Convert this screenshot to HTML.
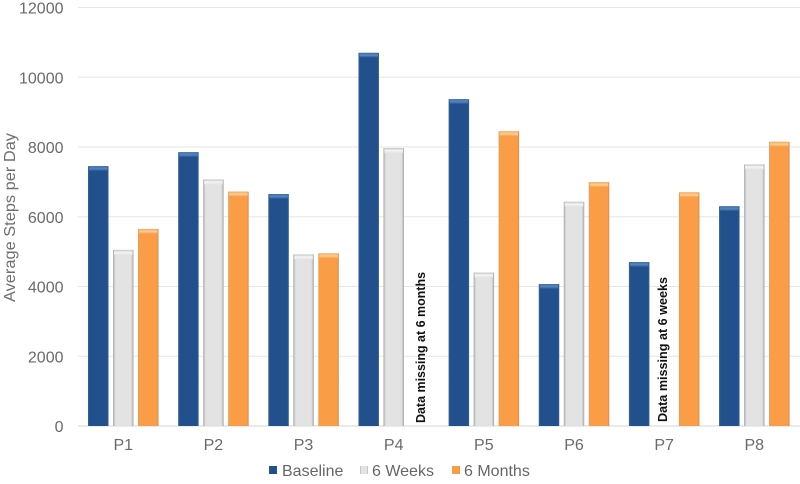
<!DOCTYPE html>
<html>
<head>
<meta charset="utf-8">
<style>
html,body{margin:0;padding:0;background:#fff;}
#chart{display:block;width:800px;height:484px;font-family:"Liberation Sans",sans-serif;}
</style>
</head>
<body>
<svg id="chart" xmlns="http://www.w3.org/2000/svg" width="800" height="484" viewBox="0 0 800 484">
<defs>
<linearGradient id="h0" x1="0" x2="1" y1="0" y2="0"><stop offset="0" stop-color="#3b6597"/><stop offset="0.08" stop-color="#22508c"/><stop offset="0.92" stop-color="#22508c"/><stop offset="1" stop-color="#34608f"/></linearGradient>
<linearGradient id="h1" x1="0" x2="1" y1="0" y2="0"><stop offset="0" stop-color="#a9a9a9"/><stop offset="0.12" stop-color="#e3e3e3"/><stop offset="0.88" stop-color="#e3e3e3"/><stop offset="1" stop-color="#a5a5a5"/></linearGradient>
<linearGradient id="h2" x1="0" x2="1" y1="0" y2="0"><stop offset="0" stop-color="#d9a066"/><stop offset="0.08" stop-color="#fb9d47"/><stop offset="0.92" stop-color="#fb9d47"/><stop offset="1" stop-color="#c98a50"/></linearGradient>
<linearGradient id="v0" x1="0" x2="0" y1="0" y2="1"><stop offset="0" stop-color="#3f6ea8"/><stop offset="0.5" stop-color="#5686c0"/><stop offset="1" stop-color="#22508c"/></linearGradient>
<linearGradient id="v1" x1="0" x2="0" y1="0" y2="1"><stop offset="0" stop-color="#c4c4c4"/><stop offset="0.5" stop-color="#f5f5f5"/><stop offset="1" stop-color="#e3e3e3"/></linearGradient>
<linearGradient id="v2" x1="0" x2="0" y1="0" y2="1"><stop offset="0" stop-color="#f0a860"/><stop offset="0.5" stop-color="#ffcf96"/><stop offset="1" stop-color="#fb9d47"/></linearGradient>
</defs>
</svg>
<script>
var categories = ['P1','P2','P3','P4','P5','P6','P7','P8'];
var baseline = [7450,7850,6650,10700,9370,4070,4700,6300];
var sixWeeks = [5050,7070,4920,7970,4400,6430,null,7500];
var sixMonths = [5650,6720,4950,null,8450,6990,6700,8150];
var yTicks = [0,2000,4000,6000,8000,10000,12000];
var seriesNames = ['Baseline','6 Weeks','6 Months'];
var seriesNotes = ['Data missing at 6 months','Data missing at 6 weeks'];

var svg = document.getElementById('chart');
var NS = 'http://www.w3.org/2000/svg';
var yMax = 12000;
function yScale(v){ return 426 - v / yMax * 418.5; }
function xScale(groupIndex, seriesIndex){ return 88 + groupIndex * 90.15 + seriesIndex * 25; }
function mk(tag, attrs, parent){
  var el = document.createElementNS(NS, tag);
  for (var k in attrs) el.setAttribute(k, attrs[k]);
  (parent || svg).appendChild(el);
  return el;
}

yTicks.forEach(function(t){
  var y = yScale(t);
  var line = mk('line', {x1:78, x2:800, y1:y, y2:y, stroke: t === 0 ? '#d4d4d4' : '#e6e6e6', 'stroke-width':1});
  
  
  var label = mk('text', {x:63.5, y:y + 6, 'text-anchor':'end', 'font-size':16, fill:'#6a6a6a'});
  label.textContent = t;
  
  
});

var yTitle = mk('text', {x:0, y:0, transform:'translate(15,302) rotate(-90)', 'font-size':16, fill:'#6f6f6f', textLength:169, lengthAdjust:'spacingAndGlyphs'});
yTitle.textContent = 'Average Steps per Day';



var allSeries = [baseline, sixWeeks, sixMonths];
var barW = 20.5;
allSeries.forEach(function(values, s){
  values.forEach(function(v, i){
    if (v === null) return;
    var x = xScale(i, s), y = yScale(v), h = yScale(0) - y;
    var bar = mk('rect', {x:x, y:y, width:barW, height:h, fill:'url(#h' + s + ')'});
    
    
    var cap = mk('rect', {x:x + 1, y:y, width:barW - 2, height:5, fill:'url(#v' + s + ')'});
    
    
  });
});

categories.forEach(function(c, i){
  var label = mk('text', {x:xScale(i, 1) + barW / 2, y:450, 'text-anchor':'middle', 'font-size':16, fill:'#6a6a6a'});
  label.textContent = c;
  
  
});

var note1 = mk('text', {x:0, y:0, transform:'translate(425,423) rotate(-90)', 'font-size':13, 'font-weight':'bold', fill:'#111', textLength:151, lengthAdjust:'spacingAndGlyphs'});
note1.textContent = seriesNotes[0];


var note2 = mk('text', {x:0, y:0, transform:'translate(667,422) rotate(-90)', 'font-size':13, 'font-weight':'bold', fill:'#111', textLength:145, lengthAdjust:'spacingAndGlyphs'});
note2.textContent = seriesNotes[1];



var legendSwatchX = [269, 360, 452];
var legendTextX = [282, 372, 464];
seriesNames.forEach(function(n, s){
  var sw = mk('rect', {x:legendSwatchX[s], y:466, width:8, height:8, fill:'url(#h' + s + ')'});
  
  
  var label = mk('text', {x:legendTextX[s], y:476, 'font-size':16, fill:'#666'});
  label.textContent = n;
  
  
});
</script>
</body>
</html>
